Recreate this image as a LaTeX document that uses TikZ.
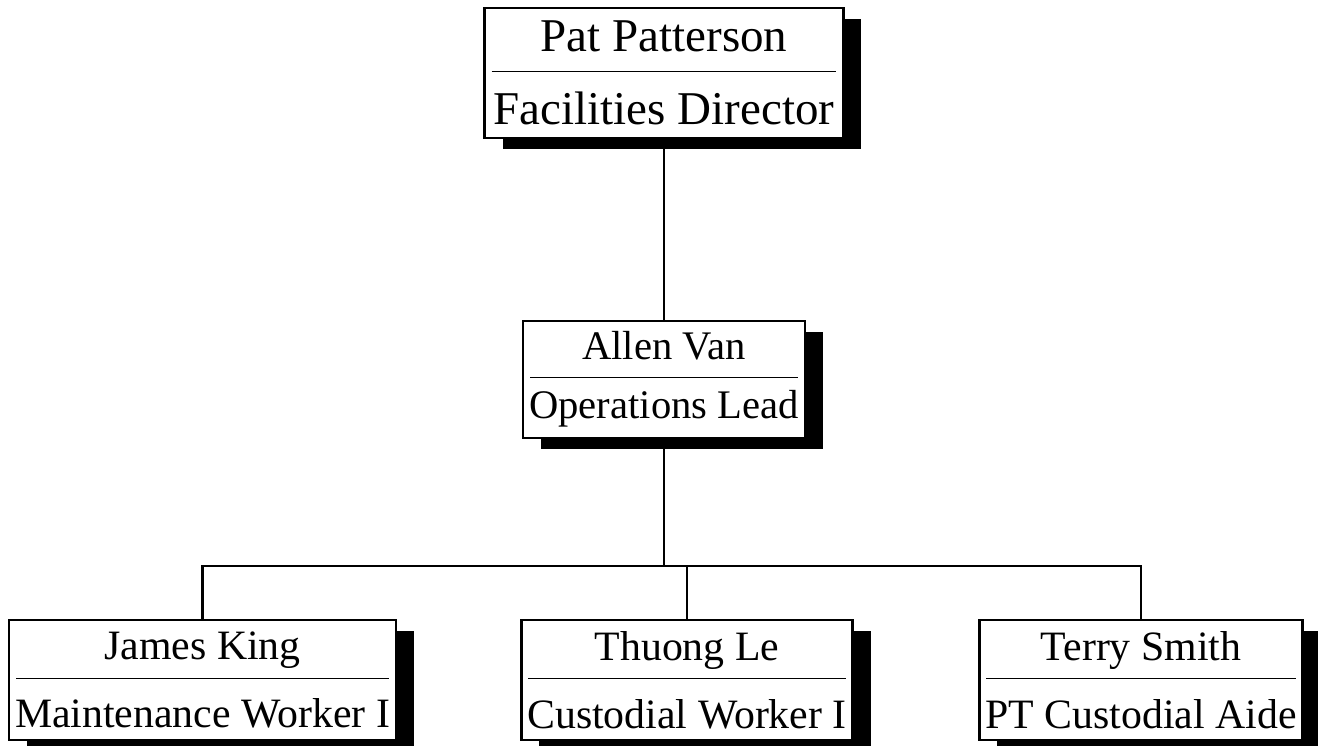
\documentclass[tikz,border=0pt]{standalone}
\usepackage{fontspec}
\setmainfont{Liberation Serif}
\usetikzlibrary{positioning,shadows,calc}

\begin{document}
\begin{tikzpicture}[
  x=0.5pt, y=-0.5pt,
  card/.style ={draw, line width=1.2pt, fill=white, align=center,
                inner xsep=3pt, inner ysep=0pt,
                drop shadow={shadow xshift=9pt, shadow yshift=-5.5pt,
                             fill=black, opacity=1},
                path picture={\draw[line width=0.5pt]
                  ([xshift=3.5pt,yshift=1pt]path picture bounding box.west) --
                  ([xshift=-3.5pt,yshift=1pt]path picture bounding box.east);}},
  headcard/.style ={card, inner xsep=4.5pt, minimum height=65pt,
                    font=\fontsize{23.5}{36.5}\selectfont},
  leadcard/.style ={card, minimum height=58.5pt,
                    font=\fontsize{20.3}{29.5}\selectfont},
  staffcard/.style={card, minimum height=60pt,
                    font=\fontsize{20.9}{34}\selectfont},
  conn/.style ={line width=1.4pt}
]
\useasboundingbox (0,0) rectangle (1318,745);

%% ---- Director ----------------------------------------------------
\node[headcard] (director) at (664,73) {Pat Patterson\\Facilities Director};

%% ---- Operations lead ---------------------------------------------
\node[leadcard] (lead) at (664,379.5) {Allen Van\\Operations Lead};

%% ---- Staff -------------------------------------------------------
\node[staffcard] (james)  at (202.5,680) {James King\\Maintenance Worker I};
\node[staffcard] (thuong) at (687,680)   {Thuong Le\\Custodial Worker I};
\node[staffcard] (terry)  at (1141,680)  {Terry Smith\\PT Custodial Aide};

%% ---- Connectors --------------------------------------------------
\coordinate (bus) at (664,566);
\draw[conn] (director) -- (lead);
\draw[conn] (lead) -- (bus);
\draw[conn] (james) |- (bus) -| (terry);
\draw[conn] (thuong) -- (thuong |- bus);

\end{tikzpicture}
\end{document}
